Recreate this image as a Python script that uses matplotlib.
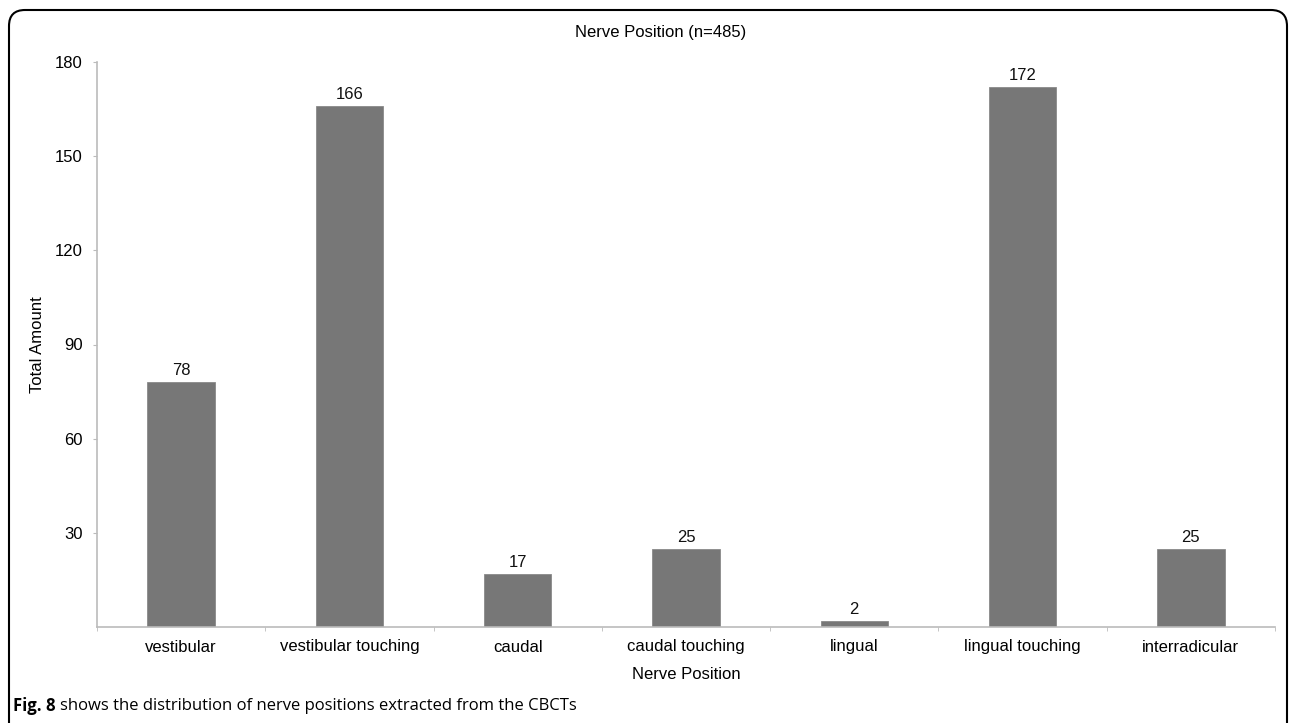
import matplotlib
matplotlib.use("Agg")
import matplotlib.pyplot as plt
from matplotlib.path import Path
from matplotlib.patches import PathPatch
import numpy as np

categories = ["vestibular", "vestibular touching", "caudal", "caudal touching",
              "lingual", "lingual touching", "interradicular"]
values = [78, 166, 17, 25, 2, 172, 25]
yticks = [30, 60, 90, 120, 150, 180]

plt.rcParams['font.family'] = ['Liberation Sans', 'DejaVu Sans']

W, H = 1295, 723
FS = 12
fig = plt.figure(figsize=(W/100, H/100), dpi=100)
ax = fig.add_axes([97/W, 1-627/H, (1275-97)/W, (627-62)/H])

x = np.arange(len(categories))
ax.bar(x, values, width=0.4, color="#777777", edgecolor="#8a8a8a", linewidth=0.6, zorder=2)
for xi, v in zip(x, values):
    ax.text(xi, v + 1.2, str(v), ha="center", va="bottom", fontsize=FS, color="#111111")

ax.set_xlim(-0.5, len(categories) - 0.5)
ax.set_ylim(0, 180)
ax.set_yticks(yticks)
ax.set_yticklabels([str(t) for t in yticks])
ax.set_xticks(x)
ax.set_xticklabels(categories)
ax.set_xticks(np.arange(-0.5, len(categories), 1.0), minor=True)
ax.tick_params(axis="x", which="major", length=0, pad=9, labelsize=FS)
ax.tick_params(axis="x", which="minor", length=3, color="#bbbbbb", direction="out")
ax.tick_params(axis="y", length=3, color="#bbbbbb", pad=7.5, labelsize=FS)
for s in ["top", "right"]:
    ax.spines[s].set_visible(False)
for s in ["left", "bottom"]:
    ax.spines[s].set_color("#bbbbbb")
    ax.spines[s].set_linewidth(1.2)

ax.set_xlabel("Nerve Position", fontsize=FS, labelpad=9)
ax.set_ylabel("Total Amount", fontsize=FS, labelpad=7)
fig.text(661/W, 1-33/H, "Nerve Position (n=485)", ha="center", va="center", fontsize=FS)

# rounded frame (open at bottom)
x0, x1 = 9/W, 1287/W
y0, y1 = 0.0, 1-10/H
rx, ry = 16/W, 16/H
verts = [(x0, y0), (x0, y1-ry), (x0, y1), (x0+rx, y1), (x1-rx, y1), (x1, y1), (x1, y1-ry), (x1, y0)]
codes = [Path.MOVETO, Path.LINETO, Path.CURVE3, Path.CURVE3, Path.LINETO, Path.CURVE3, Path.CURVE3, Path.LINETO]
fig.patches.append(PathPatch(Path(verts, codes), transform=fig.transFigure, fill=False,
                             edgecolor="black", linewidth=1.5))

t1 = fig.text(13/W, 1-706/H, "Fig. 8", ha="left", va="center", fontsize=12,
              fontweight="bold", family=["Open Sans", "DejaVu Sans"])
fig.canvas.draw()
bb = t1.get_window_extent()
fig.text((bb.x1 + 4)/W, 1-706/H, "shows the distribution of nerve positions extracted from the CBCTs",
         ha="left", va="center", fontsize=12, family=["Open Sans", "DejaVu Sans"])

fig.savefig("out.png", dpi=100)
